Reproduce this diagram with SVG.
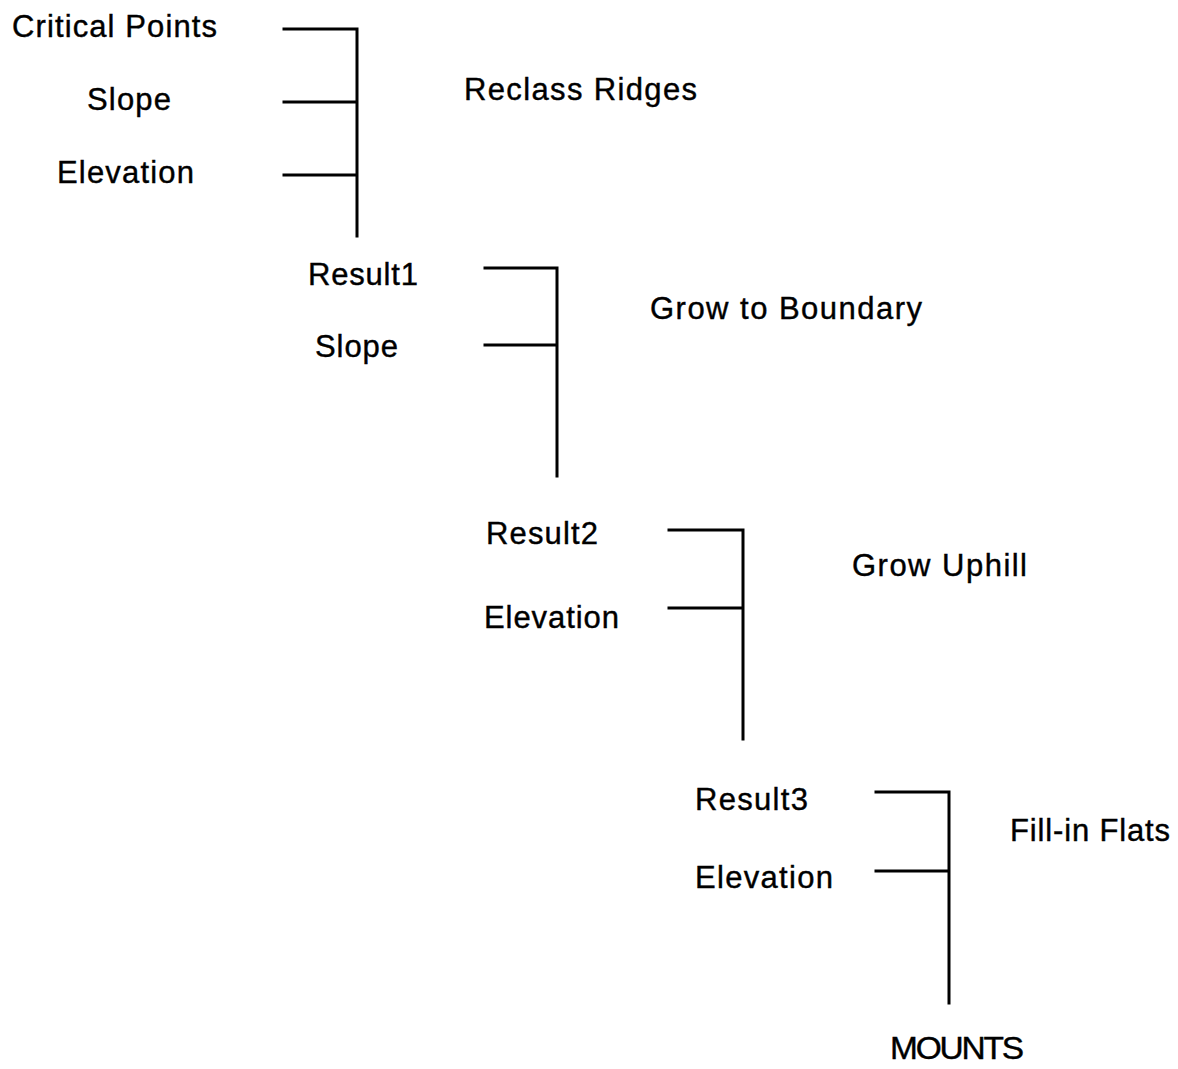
<svg xmlns="http://www.w3.org/2000/svg" width="1178" height="1069" viewBox="0 0 1178 1069">
<style>
text{font-family:"Liberation Sans",Arial,Helvetica,sans-serif;font-size:31px;fill:#000;stroke:#000;stroke-width:0.4px;}
.c{stroke:#000;stroke-width:3;fill:none;stroke-linecap:square;}
</style>
<rect width="1178" height="1069" fill="#fff"/>
<g id="connectors">
<path class="c" d="M284 29H357M284 102H357M284 175H357M357 29V236"/>
<path class="c" d="M485 268H557M485 345H557M557 268V476"/>
<path class="c" d="M669 530H743M669 608H743M743 530V739"/>
<path class="c" d="M876 792H949M876 871H949M949 792V1003"/>
</g>
<g id="n-critical"><text x="12" y="37" textLength="205" lengthAdjust="spacing">Critical Points</text></g>
<g id="n-slope1"><text x="87" y="110" textLength="84" lengthAdjust="spacing">Slope</text></g>
<g id="n-elev1"><text x="57" y="183" textLength="137" lengthAdjust="spacing">Elevation</text></g>
<g id="n-reclass"><text x="464" y="100" textLength="233" lengthAdjust="spacing">Reclass Ridges</text></g>
<g id="n-result1"><text x="308" y="285" textLength="110" lengthAdjust="spacing">Result1</text></g>
<g id="n-slope2"><text x="315" y="357" textLength="83" lengthAdjust="spacing">Slope</text></g>
<g id="n-grow-boundary"><text x="650" y="319" textLength="272" lengthAdjust="spacing">Grow to Boundary</text></g>
<g id="n-result2"><text x="486" y="544" textLength="112" lengthAdjust="spacing">Result2</text></g>
<g id="n-elev2"><text x="484" y="628" textLength="135" lengthAdjust="spacing">Elevation</text></g>
<g id="n-grow-uphill"><text x="852" y="576" textLength="175" lengthAdjust="spacing">Grow Uphill</text></g>
<g id="n-result3"><text x="695" y="810" textLength="113" lengthAdjust="spacing">Result3</text></g>
<g id="n-elev3"><text x="695" y="888" textLength="138" lengthAdjust="spacing">Elevation</text></g>
<g id="n-fill"><text x="1010" y="841" textLength="160" lengthAdjust="spacing">Fill-in Flats</text></g>
<g id="n-mounts"><text x="890" y="1059" textLength="132" lengthAdjust="spacingAndGlyphs" style="letter-spacing:-2px">MOUNTS</text></g>
</svg>
